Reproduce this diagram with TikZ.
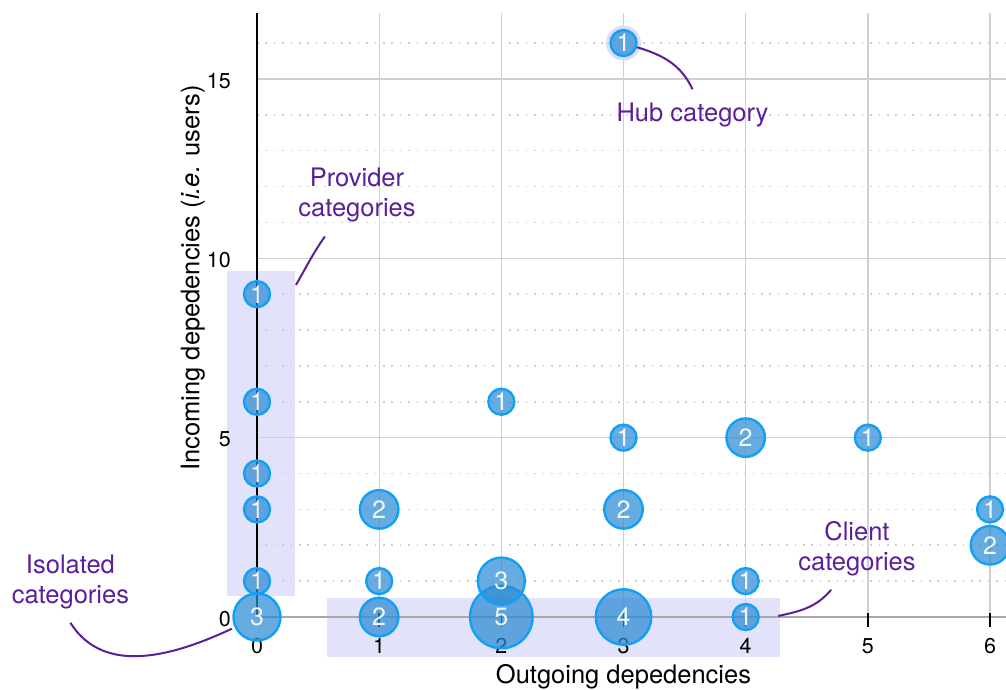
\documentclass[tikz,border=0pt]{standalone}
\usepackage{fontspec}
\setmainfont{TeX Gyre Heros}
\usepackage{xcolor}
\usepackage{tikz}
\usetikzlibrary{arrows.meta}

\definecolor{bubfill}{HTML}{2C8CD4}
\definecolor{bubline}{HTML}{12A0F5}
\definecolor{notecol}{HTML}{5A1F9A}
\definecolor{zone}{HTML}{E2E2FB}
\definecolor{halo}{HTML}{E0DCF8}
\definecolor{gridc}{HTML}{CFCFCF}
\definecolor{axisc}{HTML}{A8A8A8}

\begin{document}
\begin{tikzpicture}[x=122.17pt, y=35.87pt,
    bub/.style={circle, draw=bubline, line width=2.4pt, fill=bubfill, fill opacity=0.72, text=white, text opacity=0.92, inner sep=0pt, font=\fontsize{25}{30}\selectfont},
    n1/.style={bub, minimum size=26pt},
    n2/.style={bub, minimum size=38.5pt},
    n3/.style={bub, minimum size=47pt},
    n4/.style={bub, minimum size=55.5pt},
    n5/.style={bub, minimum size=62.5pt},
    note/.style={text=notecol, align=center, inner sep=0pt, outer sep=14pt, font=\fontsize{25.5}{30}\selectfont},
    noteline/.style={draw=notecol, line width=2pt},
    dotline/.style={draw=gridc, line width=1.6pt, dash pattern=on 1.6pt off 6.8pt},
    gridline/.style={draw=gridc, line width=1.3pt},
    tickmark/.style={draw=black, line width=1.6pt},
    ticklbl/.style={font=\fontsize{21.5}{26}\selectfont},
    axislbl/.style={font=\fontsize{25.5}{30}\selectfont}]
    \useasboundingbox (-2.1036,-2.0073) rectangle (6.1308,17.2010);

    \fill[zone] (-0.245,0.58) rectangle (0.311,9.65);
    \fill[zone] (0.5755,-1.107) rectangle (4.281,0.538);

    \draw[dotline] (0,1) -- (6.1308,1);
    \draw[dotline] (0,2) -- (6.1308,2);
    \draw[dotline] (0,3) -- (6.1308,3);
    \draw[dotline] (0,4) -- (6.1308,4);
    \draw[dotline] (0,6) -- (6.1308,6);
    \draw[dotline] (0,7) -- (6.1308,7);
    \draw[dotline] (0,8) -- (6.1308,8);
    \draw[dotline] (0,9) -- (6.1308,9);
    \draw[dotline] (0,11) -- (6.1308,11);
    \draw[dotline] (0,12) -- (6.1308,12);
    \draw[dotline] (0,13) -- (6.1308,13);
    \draw[dotline] (0,14) -- (6.1308,14);
    \draw[dotline] (0,16) -- (6.1308,16);

    \draw[gridline] (0,5) -- (6.1308,5);
    \draw[gridline] (0,10) -- (6.1308,10);
    \draw[gridline] (0,15) -- (6.1308,15);
    \draw[gridline] (1,0) -- (1,16.84);
    \draw[gridline] (2,0) -- (2,16.84);
    \draw[gridline] (3,0) -- (3,16.84);
    \draw[gridline] (4,0) -- (4,16.84);
    \draw[gridline] (5,0) -- (5,16.84);
    \draw[gridline] (6,0) -- (6,16.84);

    \draw[axisc, line width=1.3pt] (0,0) -- (6.1308,0);
    \draw[tickmark] (1,0.11) -- (1,-0.28);
    \draw[tickmark] (2,0.11) -- (2,-0.28);
    \draw[tickmark] (3,0.11) -- (3,-0.28);
    \draw[tickmark] (4,0.11) -- (4,-0.28);
    \draw[tickmark] (5,0.11) -- (5,-0.28);
    \draw[tickmark] (6,0.11) -- (6,-0.28);
    \draw[black, line width=2pt] (0,0) -- (0,16.84);

    \node[ticklbl, anchor=base] at (0,-1.004) (x0) {0};
    \node[ticklbl, anchor=base] at (1,-1.004) (x1) {1};
    \node[ticklbl, anchor=base] at (2,-1.004) (x2) {2};
    \node[ticklbl, anchor=base] at (3,-1.004) (x3) {3};
    \node[ticklbl, anchor=base] at (4,-1.004) (x4) {4};
    \node[ticklbl, anchor=base] at (5,-1.004) (x5) {5};
    \node[ticklbl, anchor=base] at (6,-1.004) (x6) {6};
    \node[ticklbl, anchor=east, inner sep=0pt] at (-0.213,-0.05) (y0) {0};
    \node[ticklbl, anchor=east, inner sep=0pt] at (-0.213,4.95) (y5) {5};
    \node[ticklbl, anchor=east, inner sep=0pt] at (-0.213,9.95) (y10) {10};
    \node[ticklbl, anchor=east, inner sep=0pt] at (-0.213,14.95) (y15) {15};

    \node[axislbl, anchor=base] at (3,-1.84) (xlabel) {Outgoing depedencies};
    \node[axislbl, rotate=90] at (-0.524,9.45) (ylabel) {Incoming depedencies (\textit{i.e.} users)};

    \node[circle, fill=halo, minimum size=35pt, inner sep=0pt] at (3,16) (hubhalo) {};

    \node[n3] at (0,0) (b00) {3};
    \node[n1] at (0,1) (b01) {1};
    \node[n1] at (0,3) (b03) {1};
    \node[n1] at (0,4) (b04) {1};
    \node[n1] at (0,6) (b06) {1};
    \node[n1] at (0,9) (b09) {1};
    \node[n2] at (1,0) (b10) {2};
    \node[n1] at (1,1) (b11) {1};
    \node[n2] at (1,3) (b13) {2};
    \node[n5] at (2,0) (b20) {5};
    \node[n3] at (2,1) (b21) {3};
    \node[n1] at (2,6) (b26) {1};
    \node[n4] at (3,0) (b30) {4};
    \node[n2] at (3,3) (b33) {2};
    \node[n1] at (3,5) (b35) {1};
    \node[n1] at (3,16) (b316) {1};
    \node[n1] at (4,0) (b40) {1};
    \node[n1] at (4,1) (b41) {1};
    \node[n2] at (4,5) (b45) {2};
    \node[n1] at (5,5) (b55) {1};
    \node[n2] at (6,2) (b62) {2};
    \node[n1] at (6,3) (b63) {1};

    \node[note] at (3.565,13.984) (hubnote) {Hub category};
    \node[note] at (0.8185,11.754) (provnote) {Provider\\categories};
    \node[note] at (4.911,1.912) (clientnote) {Client\\categories};
    \node[note] at (-1.527,0.984) (isonote) {Isolated\\categories};

    \coordinate (provtip) at (0.319,9.256);
    \coordinate (clienttip) at (4.265,0.028);

    \draw[noteline] (b316) to[out=-17,in=115] (hubnote.north);
    \draw[noteline] (provtip) to[out=60,in=235] (provnote.232);
    \draw[noteline] (clienttip) to[out=12,in=230] (clientnote.238);
    \draw[noteline, shorten >=3pt] (isonote.south) to[out=-58,in=205] (b00);
\end{tikzpicture}
\end{document}
